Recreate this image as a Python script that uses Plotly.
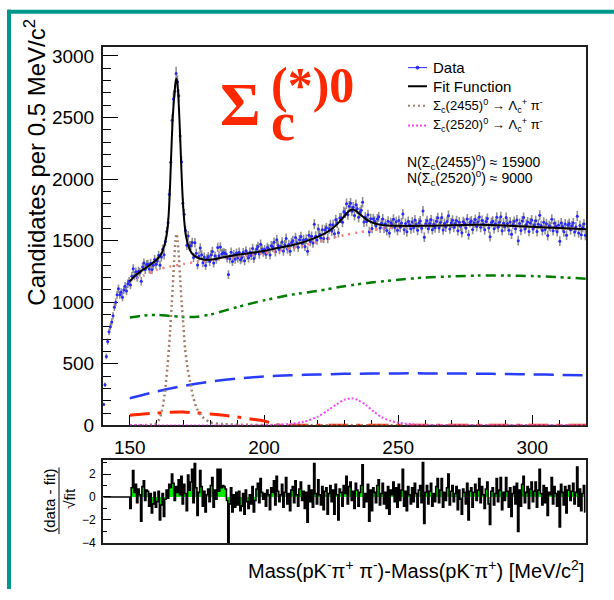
import numpy as np
import plotly.graph_objects as go

# ---------------- data ----------------
bin_start = 140.0
bin_width = 0.5

data_counts = [
    170, 330, 560, 680, 760, 800, 840, 890, 960, 1000,
    1060, 1110, 1060, 1080, 1040, 1100, 1130, 1090, 1150, 1170,
    1139, 1211, 1272, 1214, 1247, 1200, 1252, 1242, 1170, 1285,
    1319, 1265, 1306, 1309, 1270, 1317, 1264, 1301, 1346, 1308,
    1335, 1381, 1300, 1368, 1431, 1385, 1492, 1573, 1646, 1876,
    2137, 2478, 2651, 2714, 2858, 2791, 2677, 2350, 2141, 1804,
    1715, 1582, 1463, 1538, 1458, 1459, 1485, 1364, 1483, 1398,
    1303, 1373, 1440, 1385, 1320, 1367, 1299, 1353, 1371, 1330,
    1384, 1412, 1318, 1375, 1348, 1445, 1377, 1449, 1392, 1401,
    1399, 1394, 1359, 1224, 1352, 1406, 1330, 1387, 1349, 1399,
    1360, 1406, 1344, 1360, 1403, 1337, 1417, 1381, 1360, 1406,
    1379, 1436, 1355, 1394, 1433, 1453, 1391, 1471, 1428, 1407,
    1427, 1389, 1444, 1432, 1384, 1459, 1446, 1487, 1409, 1507,
    1460, 1428, 1453, 1489, 1415, 1466, 1518, 1432, 1468, 1413,
    1485, 1500, 1449, 1525, 1482, 1446, 1507, 1533, 1474, 1508,
    1453, 1512, 1414, 1543, 1492, 1535, 1481, 1633, 1536, 1505,
    1595, 1550, 1521, 1589, 1517, 1586, 1604, 1518, 1596, 1630,
    1579, 1629, 1555, 1669, 1643, 1565, 1684, 1685, 1649, 1734,
    1725, 1800, 1710, 1780, 1803, 1739, 1772, 1705, 1791, 1758,
    1689, 1730, 1747, 1812, 1651, 1691, 1656, 1710, 1573, 1678,
    1599, 1677, 1658, 1619, 1676, 1694, 1603, 1641, 1676, 1601,
    1638, 1582, 1658, 1562, 1646, 1630, 1674, 1606, 1654, 1584,
    1664, 1608, 1644, 1716, 1588, 1640, 1572, 1656, 1628, 1596,
    1652, 1604, 1668, 1632, 1584, 1644, 1660, 1600, 1740, 1528,
    1637, 1661, 1597, 1641, 1669, 1589, 1633, 1605, 1657, 1685,
    1603, 1647, 1687, 1587, 1639, 1611, 1655, 1703, 1595, 1643,
    1665, 1609, 1637, 1661, 1581, 1649, 1617, 1565, 1653, 1641,
    1603, 1675, 1547, 1647, 1659, 1591, 1643, 1671, 1615, 1651,
    1692, 1608, 1664, 1636, 1588, 1656, 1680, 1604, 1532, 1648,
    1657, 1597, 1637, 1689, 1609, 1649, 1693, 1581, 1641, 1613,
    1688, 1640, 1584, 1652, 1552, 1632, 1656, 1596, 1668, 1500,
    1639, 1583, 1659, 1687, 1595, 1631, 1651, 1575, 1643, 1667,
    1594, 1630, 1662, 1574, 1634, 1706, 1622, 1582, 1650, 1590,
    1637, 1541, 1621, 1613, 1673, 1581, 1641, 1617, 1573, 1625,
    1496, 1644, 1616, 1572, 1636, 1544, 1624, 1640, 1588, 1620,
    1643, 1571, 1611, 1699, 1563, 1623, 1547, 1607, 1635, 1543,
]

residuals = [
    0, 0, 0, 0, 0, 0, 0, 0, 0, 0,
    0, 0, 0, 0, 0, 0, 0, 0, 0, 0,
    -1.0, 0.8, 2.3, 0.4, 1.1, -0.5, 0.7, 0.2, -2.1, 0.9,
    1.4, -0.3, 0.6, 0.5, -0.8, 0.3, -1.4, -0.6, 0.4, -0.9,
    -0.4, 0.5, -2.0, -0.7, 0.3, -1.7, -0.2, 0.6, -0.1, 1.1,
    0.8, 2.0, 1.2, -0.3, 0.9, 0.4, 1.5, 0.2, 1.8, -0.6,
    1.1, 0.3, -1.2, 1.9, 0.6, 1.3, 2.4, -0.5, 2.9, 0.8,
    -1.6, 0.4, 2.3, 0.9, -0.8, 0.5, -1.3, 0.2, 0.7, -0.4,
    1.0, 1.7, -0.9, 0.6, -0.2, 2.4, 0.5, 2.4, 0.8, 1.0,
    0.9, 0.7, -0.3, -4.0, -0.6, 0.8, -1.3, 0.2, -0.9, 0.4,
    -0.7, 0.5, -1.2, -0.8, 0.3, -1.5, 0.6, -0.4, -1.0, 0.2,
    -0.6, 0.9, -1.3, -0.3, 0.7, 1.2, -0.5, 1.6, 0.4, -0.2,
    0.3, -0.8, 0.6, 0.2, -1.1, 0.8, 0.4, 1.4, -0.7, 1.8,
    0.5, -0.4, 0.2, 1.1, -0.9, 0.4, 1.7, -0.6, 0.3, -1.2,
    0.6, 0.9, -0.5, 1.4, 0.2, -0.8, 0.7, 1.3, -0.3, 0.5,
    -1.0, 0.4, -2.2, 1.0, -0.4, 0.6, -0.9, 2.9, 0.3, -0.6,
    1.5, 0.2, -0.7, 0.9, -1.1, 0.5, 0.8, -1.5, 0.3, 1.0,
    -0.4, 0.6, -1.5, 1.1, 0.2, -2.0, 0.7, 0.4, -0.8, 1.0,
    0.3, 1.8, -0.6, 0.9, 1.3, -0.3, 0.5, -1.0, 1.2, 0.6,
    -0.8, 0.4, 1.0, 2.8, -0.9, 0.3, -0.4, 1.1, -2.1, 0.6,
    -1.2, 0.8, 0.4, -0.5, 1.0, 1.5, -0.7, 0.3, 1.2, -0.6,
    0.4, -1.0, 0.9, -1.5, 0.6, 0.2, 1.3, -0.4, 0.8, -0.9,
    1.1, -0.3, 0.6, 2.4, -0.8, 0.5, -1.2, 0.9, 0.2, -0.6,
    0.8, -0.4, 1.2, 0.3, -0.9, 0.6, 1.0, -0.5, 3.0, -2.3,
    0.4, 1.0, -0.6, 0.5, 1.2, -0.8, 0.3, -0.4, 0.9, 1.6,
    -0.5, 0.6, 1.6, -0.9, 0.4, -0.3, 0.8, 2.0, -0.7, 0.5,
    1.0, -0.4, 0.3, 0.9, -1.1, 0.6, -0.2, -1.5, 0.7, 0.4,
    -0.6, 1.2, -2.0, 0.5, 0.8, -0.9, 0.4, 1.1, -0.3, 0.6,
    1.6, -0.5, 0.9, 0.2, -1.0, 0.7, 1.3, -0.6, -2.4, 0.5,
    0.8, -0.7, 0.3, 1.6, -0.4, 0.6, 1.7, -1.1, 0.4, -0.3,
    1.7, 0.5, -0.9, 0.8, -1.7, 0.3, 0.9, -0.6, 1.2, -3.0,
    0.6, -0.8, 1.1, 1.8, -0.5, 0.4, 0.9, -1.0, 0.7, 1.3,
    -0.4, 0.5, 1.3, -0.9, 0.6, 2.4, 0.3, -0.7, 1.0, -0.5,
    0.8, -1.6, 0.4, 0.2, 1.7, -0.6, 0.9, 0.3, -0.8, 0.5,
    -2.6, 1.1, 0.4, -0.7, 0.9, -1.4, 0.6, 1.0, -0.3, 0.5,
    1.2, -0.6, 0.4, 2.6, -0.8, 0.7, -1.2, 0.3, 1.0, -1.3,
]

# Fit function (black)
fit_mass = [150, 152, 154, 156, 158, 160, 161, 162, 163, 164, 164.5, 165, 165.5, 166, 166.5,
            167, 167.3, 167.6, 168, 168.5, 169, 169.5, 170, 170.5, 171, 172, 173, 174, 176,
            178, 180, 185, 190, 195, 200, 205, 210, 215, 220, 225, 228, 230, 232, 233, 234,
            236, 238, 240, 243, 246, 250, 260, 270, 280, 290, 300, 310, 320]
fit_vals = [1170, 1215, 1250, 1280, 1310, 1345, 1370, 1405, 1470, 1590, 1720, 1950, 2250, 2500, 2660,
            2780, 2815, 2800, 2700, 2480, 2200, 1930, 1740, 1610, 1530, 1445, 1400, 1378, 1355,
            1345, 1345, 1365, 1385, 1400, 1415, 1440, 1460, 1490, 1530, 1590, 1650, 1700, 1745, 1752, 1745,
            1710, 1675, 1650, 1630, 1622, 1620, 1620, 1625, 1628, 1622, 1612, 1602, 1592]

# Total background (salmon dotted)
bkg_mass = [150, 155, 160, 165, 170, 175, 180, 185, 190, 195, 200, 205, 210, 215, 220, 225,
            230, 235, 240, 245, 250, 255, 260, 270, 280, 290, 300, 310, 320]
bkg_vals = [1175, 1215, 1262, 1290, 1310, 1328, 1340, 1355, 1370, 1385, 1398, 1415, 1437, 1462,
            1490, 1520, 1545, 1566, 1585, 1600, 1610, 1617, 1620, 1625, 1628, 1622, 1612, 1602, 1592]

# Green dash-dot-dot component
green_mass = [150, 155, 160, 165, 170, 175, 180, 190, 200, 210, 220, 230, 240, 250, 260, 270,
              280, 290, 300, 310, 320]
green_vals = [875, 892, 897, 888, 880, 882, 900, 960, 1015, 1060, 1092, 1130, 1160, 1182, 1200,
              1210, 1216, 1217, 1212, 1203, 1191]

# Blue long-dash component
blue_mass = [150, 160, 170, 180, 190, 200, 210, 220, 230, 240, 250, 260, 270, 280, 290, 300, 310, 320]
blue_vals = [220, 275, 320, 355, 380, 396, 407, 413, 418, 421, 422, 422, 421, 419, 417, 414, 410, 406]

# Red dash-dot component
red_mass = [150, 155, 160, 165, 170, 175, 180, 185, 190, 195, 200, 202, 204, 206, 210, 230, 260, 290, 320]
red_vals = [82, 92, 100, 107, 108, 100, 93, 82, 68, 52, 36, 22, 8, 0, 0, 0, 0, 0, 0]

# Sigma_c(2455)0 signal (brown dotted)
s2455_mass = [150, 156, 159, 160, 161, 162, 163, 164, 165, 165.6, 166, 166.5, 167, 167.4, 167.8,
              168.3, 168.8, 169.3, 170, 170.6, 171.5, 172.4, 173.5, 174.9, 177, 180, 185, 195,
              210, 240, 280, 320]
s2455_vals = [0, 2, 8, 18, 50, 120, 260, 470, 760, 980, 1130, 1330, 1500, 1555, 1500,
              1360, 1180, 1000, 800, 620, 470, 360, 240, 140, 70, 25, 10, 4, 2, 0, 0, 0]

# Sigma_c(2520)0 signal (magenta dotted)
s2520_mass = [150, 200, 205, 210, 215, 220, 224, 227, 230, 232.7, 235, 238, 241, 244, 247, 250,
              255, 260, 280, 320]
s2520_vals = [0, 0, 4, 12, 30, 70, 125, 170, 208, 220, 205, 165, 110, 65, 38, 22, 8, 2, 0, 0]

# ---------------- figure ----------------
W, H = 614, 600
def PX(x):
    return x / W
def PY(y):
    return 1 - y / H

centers = bin_start + bin_width * (np.arange(len(data_counts)) + 0.5)
counts = np.array(data_counts, dtype=float)

fig = go.Figure()

# data points with errors
fig.add_trace(go.Scatter(
    x=centers, y=counts, mode='markers',
    marker=dict(color='rgb(40,40,255)', size=3),
    error_y=dict(type='data', array=np.sqrt(counts), color='rgba(70,70,70,0.6)', thickness=1.6, width=0),
    error_x=dict(type='constant', value=bin_width / 2, color='rgb(40,40,255)', thickness=1, width=0),
    xaxis='x', yaxis='y', showlegend=False, hoverinfo='skip'))

def comp(xs, ys, color, width, dash):
    fig.add_trace(go.Scatter(x=xs, y=ys, mode='lines',
                             line=dict(color=color, width=width, dash=dash, shape='spline', smoothing=0.8),
                             xaxis='x', yaxis='y', showlegend=False, hoverinfo='skip'))

comp(green_mass, green_vals, 'rgb(0,125,0)', 2.5, '10px,5px,3px,4px,3px,5px')
comp(blue_mass, blue_vals, 'rgb(40,60,250)', 2.5, '20px,9px')
comp(red_mass, red_vals, 'rgb(255,40,0)', 3, '20px,8px,4px,8px')
comp(s2455_mass, s2455_vals, 'rgb(165,125,105)', 2.5, '2px,3px')
comp(s2520_mass, s2520_vals, 'rgb(245,70,245)', 2, '2px,2px')
comp(bkg_mass, bkg_vals, 'rgb(245,125,125)', 2.5, '2px,5px')
comp(fit_mass, fit_vals, 'black', 2, 'solid')

# residual panel
fig.add_trace(go.Scatter(
    x=centers, y=residuals, mode='lines',
    line=dict(color='black', width=1.6, shape='hvh'),
    fill='tozeroy', fillcolor='rgb(0,235,0)',
    xaxis='x2', yaxis='y2', showlegend=False, hoverinfo='skip'))

xdom = [PX(103), PX(586)]
axis_common = dict(showline=True, mirror=True, linecolor='rgb(30,30,30)', linewidth=2,
                   showgrid=False, zeroline=False, tickcolor='black', layer='below traces',
                   tickfont=dict(family='Liberation Sans', size=19, color='black'))

fig.update_layout(
    width=W, height=H, autosize=False,
    margin=dict(l=0, r=0, t=0, b=0, pad=0),
    paper_bgcolor='white', plot_bgcolor='white',
    xaxis=dict(domain=xdom, range=[140, 320], anchor='y', ticks='inside', ticklen=10,
               tick0=150, dtick=50, ticklabelstandoff=4,
               minor=dict(ticks='inside', ticklen=5, dtick=10, tick0=140, tickcolor='black'),
               **axis_common),
    yaxis=dict(domain=[PY(433), PY(47)], range=[0, 3072], anchor='x', ticks='inside', ticklen=15,
               tick0=0, dtick=500, ticklabelstandoff=3,
               minor=dict(ticks='inside', ticklen=8, dtick=100, tickcolor='black'),
               **axis_common),
    xaxis2=dict(domain=xdom, range=[140, 320], anchor='y2', ticks='', showticklabels=False,
                showline=True, mirror=True, linecolor='rgb(30,30,30)', linewidth=2,
                showgrid=False, zeroline=False),
    yaxis2=dict(domain=[PY(553), PY(468)], range=[-4, 3.25], anchor='x2', ticks='inside', ticklen=8,
                tick0=0, dtick=2, ticklabelstandoff=3,
                minor=dict(ticks='inside', ticklen=4, dtick=1, tickcolor='black'),
                showline=True, mirror=True, linecolor='rgb(30,30,30)', linewidth=2,
                showgrid=False, zeroline=False, tickcolor='black',
                tickfont=dict(family='Liberation Sans', size=12, color='black')),
)

shapes = []
annotations = []

# teal frame of the page
teal = 'rgb(0,150,140)'
shapes.append(dict(type='line', xref='paper', yref='paper', x0=PX(9), x1=PX(9), y0=0, y1=PY(9),
                   line=dict(color=teal, width=4)))
shapes.append(dict(type='line', xref='paper', yref='paper', x0=PX(7), x1=1, y0=PY(11), y1=PY(11),
                   line=dict(color=teal, width=4)))

# legend samples
shapes.append(dict(type='line', xref='paper', yref='paper', x0=PX(408), x1=PX(427), y0=PY(68), y1=PY(68),
                   line=dict(color='rgb(40,40,255)', width=1)))
shapes.append(dict(type='circle', xref='paper', yref='paper', x0=PX(416), x1=PX(419), y0=PY(69.5), y1=PY(66.5),
                   line=dict(color='rgb(40,40,255)', width=1), fillcolor='rgb(40,40,255)'))
shapes.append(dict(type='line', xref='paper', yref='paper', x0=PX(408), x1=PX(427), y0=PY(87), y1=PY(87),
                   line=dict(color='black', width=2)))
shapes.append(dict(type='line', xref='paper', yref='paper', x0=PX(408), x1=PX(427), y0=PY(107), y1=PY(107),
                   line=dict(color='rgb(165,125,105)', width=2, dash='2px,3px')))
shapes.append(dict(type='line', xref='paper', yref='paper', x0=PX(408), x1=PX(427), y0=PY(127), y1=PY(127),
                   line=dict(color='rgb(245,70,245)', width=2, dash='2px,2px')))
# fraction bar of the residual axis title
shapes.append(dict(type='line', xref='paper', yref='paper', x0=PX(59), x1=PX(59), y0=PY(476), y1=PY(544),
                   line=dict(color='black', width=1)))
fig.update_layout(shapes=shapes)

def note(text, x, y, size, xanchor='left', yanchor='middle', angle=0, color='black',
         family='Liberation Sans'):
    annotations.append(dict(text=text, x=PX(x), y=PY(y), xref='paper', yref='paper',
                            xanchor=xanchor, yanchor=yanchor, showarrow=False, textangle=angle,
                            font=dict(family=family, size=size, color=color)))

note('Data', 431, 68, 15)
note('Fit Function', 431, 87, 15)
note('Σ<sub>c</sub>(2455)<sup>0</sup> → Λ<sub>c</sub><sup>+</sup> π<sup>-</sup>', 431, 107, 13)
note('Σ<sub>c</sub>(2520)<sup>0</sup> → Λ<sub>c</sub><sup>+</sup> π<sup>-</sup>', 431, 127, 13)
note('N(Σ<sub>c</sub>(2455)<sup>0</sup>) ≈ 15900', 405, 164, 14)
note('N(Σ<sub>c</sub>(2520)<sup>0</sup>) ≈ 9000', 405, 181, 14)

# big label
red = 'rgb(255,40,0)'
note('<b>Σ</b>', 240, 105, 62, xanchor='center', color=red, family='Liberation Serif')
note('<b>c</b>', 283, 123, 54, xanchor='center', color=red, family='Liberation Serif')
note('<b>(*)0</b>', 312, 86, 50, xanchor='center', color=red, family='Liberation Serif')

# axis titles
note('Candidates per 0.5 MeV/c<sup>2</sup>', 35, 165, 24, xanchor='center', angle=-90)
note('Mass(pK<sup>-</sup>π<sup>+</sup> π<sup>-</sup>)-Mass(pK<sup>-</sup>π<sup>+</sup>) [MeV/c<sup>2</sup>]',
     586, 580, 20, xanchor='right')
note('(data - fit)', 50, 510, 15, xanchor='center', angle=-90)
note('√fit', 70, 508, 15, xanchor='center', angle=-90)
fig.update_layout(annotations=annotations)

fig.write_html('out.html')
